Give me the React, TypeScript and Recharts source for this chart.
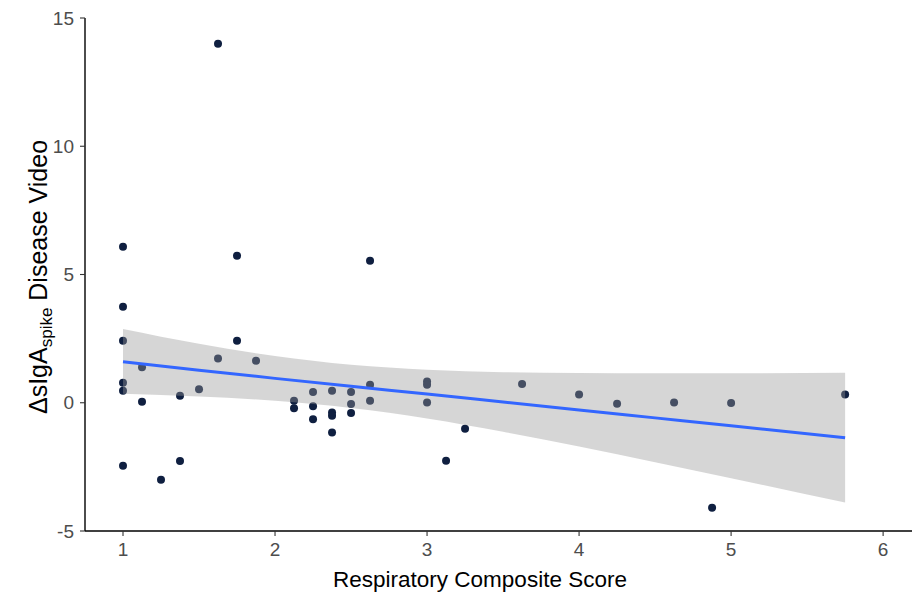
import { ComposedChart, Scatter, Area, Line, XAxis, YAxis } from 'recharts'

// observed points
const scoreX = [
  1.625, 1, 1.75, 2.625, 1, 1, 1.75, 1.625, 1.875, 1.125, 1.5, 1, 1, 1.125, 1.375, 1, 1.375, 1.25,
  2.125, 2.125, 2.25, 2.25, 2.25, 2.375, 2.375, 2.375, 2.375, 2.5, 2.5, 2.5, 2.625, 2.625,
  3, 3, 3, 3.25, 3.125, 3.625, 4, 4.25, 4.625, 5, 5.75, 4.875,
]
const deltaY = [
  14.0, 6.08, 5.73, 5.54, 3.74, 2.42, 2.42, 1.73, 1.64, 1.38, 0.53, 0.78, 0.47, 0.04, 0.27, -2.46, -2.27, -3.0,
  0.08, -0.21, 0.42, -0.14, -0.64, 0.47, -0.38, -0.51, -1.16, 0.42, -0.05, -0.4, 0.7, 0.08,
  0.83, 0.7, 0.01, -1.01, -2.26, 0.73, 0.32, -0.04, 0.01, -0.01, 0.32, -4.09,
]

// fitted line and confidence band
const fitX = [1, 1.5, 2, 2.5, 3, 3.5, 4, 4.5, 5, 5.75]
const fitY = [1.6, 1.27, 0.95, 0.64, 0.34, 0.03, -0.28, -0.59, -0.9, -1.36]
const bandLow = [0.35, 0.24, 0.08, -0.2, -0.61, -1.13, -1.71, -2.32, -2.94, -3.89]
const bandHigh = [2.88, 2.3, 1.82, 1.48, 1.29, 1.19, 1.16, 1.15, 1.15, 1.17]

const xTicks = [1, 2, 3, 4, 5, 6]
const yTicks = [-5, 0, 5, 10, 15]

const points = scoreX.map((x, i) => ({ x, y: deltaY[i] }))
const bandRows = fitX.map((x, i) => ({ x, fit: fitY[i], band: [bandLow[i], bandHigh[i]] }))

const font = 'Liberation Sans, Arial, sans-serif'

const Dot = (props: any) => <circle cx={props.cx} cy={props.cy} r={4} fill="#0f1f40" />

const renderYLabel = () => {
  const cx = 47
  const cy = 277
  return (
    <text x={cx} y={cy} transform={`rotate(-90, ${cx}, ${cy})`} textAnchor="middle" fontSize={25} fill="#000" fontFamily={font}>
      ΔsIgA
      <tspan fontSize={17} dy={5}>spike</tspan>
      <tspan dy={-5}> Disease Video</tspan>
    </text>
  )
}

const renderXLabel = () => (
  <text x={480} y={587} textAnchor="middle" fontSize={22.5} fill="#000" fontFamily={font}>
    Respiratory Composite Score
  </text>
)

export default function App() {
  return (
    <div style={{ position: 'absolute', left: 0, top: 0, background: '#fff' }}>
      <ComposedChart width={914} height={593} data={bandRows} margin={{ top: 18, right: 2, bottom: 0, left: 0 }}>
        <XAxis
          type="number"
          dataKey="x"
          domain={[0.75, 6.19]}
          ticks={xTicks}
          allowDataOverflow
          height={62}
          tick={{ fontSize: 19, fill: '#4d4d4d', fontFamily: font }}
          tickLine={{ stroke: '#333', strokeWidth: 1.1 }}
          tickSize={5}
          tickMargin={7}
          axisLine={{ stroke: '#000', strokeWidth: 1.4 }}
          label={{ content: renderXLabel }}
        />
        <YAxis
          type="number"
          domain={[-5, 15]}
          ticks={yTicks}
          allowDataOverflow
          width={85}
          tick={{ fontSize: 19, fill: '#4d4d4d', fontFamily: font }}
          tickLine={{ stroke: '#333', strokeWidth: 1.1 }}
          tickSize={5}
          tickMargin={6}
          axisLine={{ stroke: '#000', strokeWidth: 1.4 }}
          label={{ content: renderYLabel }}
        />
        <Scatter data={points} dataKey="y" shape={Dot} zIndex={50} isAnimationActive={false} />
        <Area dataKey="band" type="monotone" fill="#999999" fillOpacity={0.4} stroke="none" zIndex={100} isAnimationActive={false} />
        <Line dataKey="fit" type="monotone" stroke="#3366ff" strokeWidth={3} dot={false} zIndex={400} isAnimationActive={false} />
      </ComposedChart>
    </div>
  )
}
